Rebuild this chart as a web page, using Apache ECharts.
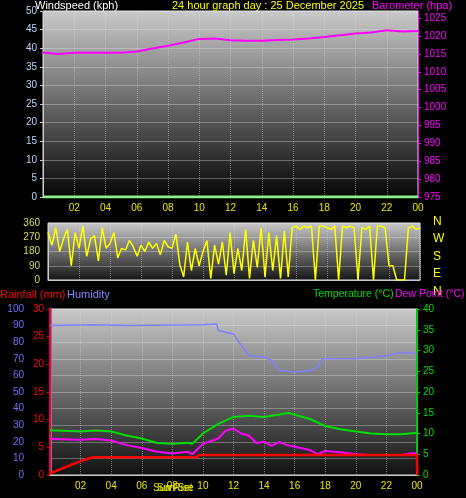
<!DOCTYPE html>
<html><head><meta charset="utf-8">
<script src="https://cdn.jsdelivr.net/npm/echarts@6/dist/echarts.min.js"></script>
<style>html,body{margin:0;background:#000}#c{width:466px;height:498px}</style></head>
<body><div id="c"></div>
<script>
const hours=[0,1,2,3,4,5,6,7,8,9,10,11,12,13,14,15,16,17,18,19,20,21,22,23,24];
const barometer=[1015.4,1015.0,1015.3,1015.3,1015.3,1015.3,1015.7,1016.5,1017.3,1018.2,1019.2,1019.3,1018.8,1018.7,1018.7,1018.9,1019.0,1019.3,1019.7,1020.2,1020.7,1021.0,1021.6,1021.3,1021.4];
const windHours=[0,24];
const windspeed=[0,0];
const windDir=[300,220,330,180, 260,320,90,300, 200,340,150,260, 280,120,330,200, 230,300,140,200, 190,250,210,150, 220,180,240,200, 230,160,250,210, 200,290,100,20, 240,60,200,90, 180,250,10,220, 100,240,30,300, 40,200,60,320, 10,250,80,330, 20,300,60,280, 10,310,20,330, 340,320,340,330, 340,0,340,340, 330,320,340,0, 340,330,340,330, 0,330,320,340, 0,340,340,330, 90,90,0,0, 0,330,340,320, 330];
const humHours=[0,3,5,10,10.9,11,12,12.5,13,14,14.5,15,16,17,17.5,17.8,18,20,21,22,23,24];
const humidity=[90,90.5,90,90.5,91,87,85,78,72,71,69,63,62,63,65,70,70,70,71,72,74,73];
const tempHours=[0,2,3,4,5,6,7,8,9,9.3,10,11,12,13,14,15,15.6,16,17,18,19,20,21,22,23,24];
const temperature=[10.8,10.5,10.7,10.5,9.5,8.8,7.7,7.5,7.8,7.5,10,12.3,14,14.3,14,14.6,15,14.5,13.5,11.8,11,10.5,10,9.8,9.8,10.2];
const dewHours=[0,2,3,4,5,6,7,8,9,9.3,10,11,11.5,12,12.5,13,13.5,14,14.5,15,15.5,16,17,17.5,18,19,20,21,22,23,23.8,24];
const dewpoint=[8.7,8.5,8.7,8.3,7.2,6.5,5.6,5.2,5.6,5,7.5,8.8,10.7,11.2,10,9.5,7.7,8,7,8,7.2,6.8,6,5,5.8,5.5,5,4.8,4.8,4.8,5.3,5];
const rainHours=[0,1,2,2.8,9.6,9.7,24,24.01];
const rainfall=[0.3,1.4,2.5,3.2,3.2,3.6,3.6,0];
const sunRise=7.83, sunSet=17.17;

const pair=(xs,ys)=>xs.map((x,i)=>[x,ys[i]]);
const windPts=windDir.map((v,i)=>[i*0.25,v]);
const bg=(end)=>({type:'linear',x:0,y:0,x2:0,y2:1,colorStops:[{offset:0,color:'#cacaca'},{offset:1,color:end}]});
const F='Liberation Sans';
const xfmt=v=>v===0?'':String(v%24).padStart(2,'0');
const split={show:true,lineStyle:{color:'rgba(220,220,220,0.45)',type:'dotted'}};
const xBase=(gi,show)=>({type:'value',gridIndex:gi,min:0,max:24,interval:2,axisLine:{show:true,lineStyle:{color:'#ccc'}},axisTick:{show:false},splitLine:split,
  axisLabel:{show:show,color:'#e8e800',fontSize:10,fontFamily:F,formatter:xfmt,margin:6}});
const chart=echarts.init(document.getElementById('c'));
chart.setOption({
  backgroundColor:'#000',animation:false,
  grid:[
    {left:43,right:48,top:11,height:186,show:true,backgroundColor:bg('#050505'),borderColor:'#ddd',borderWidth:1},
    {left:48,right:46,top:223,height:57,show:true,backgroundColor:bg('#151515'),borderColor:'#ddd',borderWidth:1},
    {left:50,right:49,top:309,height:166,show:true,backgroundColor:bg('#101010'),borderColor:'#ddd',borderWidth:1}
  ],
  xAxis:[xBase(0,true),xBase(1,false),xBase(2,true)],
  yAxis:[
    {type:'value',gridIndex:0,min:0,max:50,interval:5,axisLine:{show:true,lineStyle:{color:'#ccc'}},axisTick:{show:true,length:3},splitLine:{show:true,lineStyle:{color:'rgba(230,230,230,0.35)'}},axisLabel:{color:'#b8d8ff',fontSize:10,fontFamily:F,margin:6}},
    {type:'value',gridIndex:0,min:975,max:1027,interval:5,position:'right',axisLine:{show:true,lineStyle:{color:'#ff00ff'}},axisTick:{show:true,length:3},splitLine:{show:false},axisLabel:{color:'#ff00ff',fontSize:10,fontFamily:F,margin:6,showMaxLabel:false,formatter:v=>String(v)}},
    {type:'value',gridIndex:1,min:0,max:360,interval:90,axisLine:{show:true,lineStyle:{color:'#ccc'}},axisTick:{show:false},splitLine:{show:true,lineStyle:{color:'rgba(230,230,230,0.35)'}},axisLabel:{color:'#dddd55',fontSize:10,fontFamily:F,margin:8}},
    {type:'value',gridIndex:2,min:0,max:100,interval:10,position:'left',offset:20,axisLine:{show:true,lineStyle:{color:'#7070ff',width:3}},axisTick:{show:false},splitLine:{show:true,lineStyle:{color:'rgba(230,230,230,0.35)'}},axisLabel:{color:'#7070ff',fontSize:10,fontFamily:F,margin:6}},
    {type:'value',gridIndex:2,min:0,max:30,interval:5,position:'left',offset:0,axisLine:{show:true,lineStyle:{color:'#ff0000',width:2}},axisTick:{show:true,length:3},splitLine:{show:false},axisLabel:{color:'#ff0000',fontSize:10,fontFamily:F,margin:6}},
    {type:'value',gridIndex:2,min:0,max:40,interval:5,position:'right',axisLine:{show:true,lineStyle:{color:'#00cc00',width:2}},axisTick:{show:true,length:3},splitLine:{show:false},axisLabel:{color:'#00dd00',fontSize:10,fontFamily:F,margin:6}}
  ],
  series:[
    {type:'line',xAxisIndex:0,yAxisIndex:0,data:pair(windHours,windspeed),symbol:'none',lineStyle:{color:'#90ee90',width:3}},
    {type:'line',xAxisIndex:0,yAxisIndex:1,data:pair(hours,barometer),symbol:'none',lineStyle:{color:'#ff00ff',width:2}},
    {type:'line',xAxisIndex:1,yAxisIndex:2,data:windPts,symbol:'none',lineStyle:{color:'#ffff00',width:1.5}},
    {type:'line',xAxisIndex:2,yAxisIndex:3,data:pair(humHours,humidity),symbol:'none',lineStyle:{color:'#8080ff',width:1.5}},
    {type:'line',xAxisIndex:2,yAxisIndex:5,data:pair(tempHours,temperature),symbol:'none',lineStyle:{color:'#00dd00',width:2}},
    {type:'line',xAxisIndex:2,yAxisIndex:5,data:pair(dewHours,dewpoint),symbol:'none',lineStyle:{color:'#ff00ff',width:2}},
    {type:'line',xAxisIndex:2,yAxisIndex:4,data:pair(rainHours,rainfall),symbol:'none',lineStyle:{color:'#ff0000',width:2.5},
      markLine:{symbol:'none',silent:true,label:{show:false},lineStyle:{color:'#c8c800',width:1.5,type:'solid'},
        data:[[{coord:[sunRise,-0.5]},{coord:[sunRise,2.7]}],[{coord:[sunSet,-0.5]},{coord:[sunSet,2.7]}]]}}
  ],
  graphic:[
    {type:'text',left:35,top:0,style:{text:'Windspeed (kph)',fill:'#fff',font:'11px '+F}},
    {type:'text',left:172,top:0,style:{text:'24 hour graph day : 25 December 2025',fill:'#ffff00',font:'11px '+F}},
    {type:'text',left:372,top:0,style:{text:'Barometer (hpa)',fill:'#ff00ff',font:'11px '+F}},
    {type:'text',left:433,top:216,style:{text:'N',fill:'#ffff00',font:'12px '+F}},
    {type:'text',left:433,top:233,style:{text:'W',fill:'#ffff00',font:'12px '+F}},
    {type:'text',left:433,top:251,style:{text:'S',fill:'#ffff00',font:'12px '+F}},
    {type:'text',left:433,top:268,style:{text:'E',fill:'#ffff00',font:'12px '+F}},
    {type:'text',left:433,top:286,style:{text:'N',fill:'#ffff00',font:'12px '+F}},
    {type:'text',left:0,top:289,style:{text:'Rainfall (mm)',fill:'#ff0000',font:'11px '+F}},
    {type:'text',left:67,top:289,style:{text:'Humidity',fill:'#8888ff',font:'11px '+F}},
    {type:'text',left:313,top:289,style:{text:'Temperature (°C)',fill:'#00dd00',font:'10.5px '+F}},
    {type:'text',left:395,top:289,style:{text:'Dew Point (°C)',fill:'#ff00ff',font:'10.5px '+F}},
    {type:'text',left:153,top:483,style:{text:'Sun Rise',fill:'#e8e800',font:'10px '+F}},
    {type:'text',left:157,top:483,style:{text:'Sun Set',fill:'#e8e800',font:'10px '+F}}
  ]
});
</script></body></html>
